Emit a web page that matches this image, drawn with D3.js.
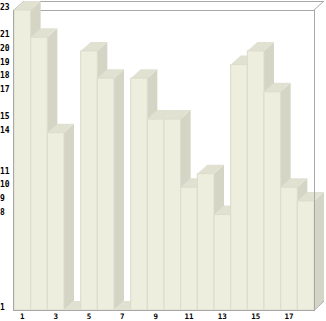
<!DOCTYPE html>
<html>
<head>
<meta charset="utf-8">
<script src="https://cdn.jsdelivr.net/npm/d3@7/dist/d3.min.js"></script>
<style>
html,body{margin:0;padding:0;background:#fff;}
svg{display:block;}
</style>
</head>
<body>
<svg id="chart" width="326" height="321"></svg>
<script>
const categories = ["1","2","3","4","5","6","7","8","9","10","11","12","13","14","15","16","17","18"];
const values = [23,21,14,1,20,18,1,18,15,15,10,11,8,19,20,17,10,9];
const yTicks = [23,21,20,19,18,17,15,14,11,10,9,8,1];
const xTicks = ["1","3","5","7","9","11","13","15","17"];

const svg = d3.select("#chart");
const L = 14, R = 314, T = 10, B = 310, DX = 10, DY = 9;
const x = d3.scaleBand().domain(categories).range([L, R]).padding(0);
const y = d3.scaleLinear().domain([1, 23]).range([B, T]);

const frameColor = "#a8a8a8";
const back = svg.append("g").attr("stroke", frameColor).attr("fill", "none").attr("shape-rendering","crispEdges");
back.append("line").attr("x1", L).attr("y1", T + 0.5).attr("x2", R).attr("y2", T + 0.5);
back.append("line").attr("x1", L + DX).attr("y1", T - DY + 0.5).attr("x2", R + DX).attr("y2", T - DY + 0.5);
svg.append("line").attr("x1", L).attr("y1", T).attr("x2", L + DX).attr("y2", T - DY).attr("stroke", frameColor);
svg.append("line").attr("x1", R).attr("y1", T).attr("x2", R + DX).attr("y2", T - DY).attr("stroke", frameColor);

const bars = svg.append("g");
categories.forEach((c, i) => {
  const v = values[i];
  const x0 = x(c), x1 = x(c) + x.bandwidth();
  const yt = y(v);
  const g = bars.append("g");
  g.append("polygon")
    .attr("points", [[x1, yt], [x1 + DX, yt - DY], [x1 + DX, B - DY], [x1, B]].map(p => p.join(",")).join(" "))
    .attr("fill", "#d5d5c5");
  g.append("polygon")
    .attr("points", [[x0, yt], [x0 + DX, yt - DY], [x1 + DX, yt - DY], [x1, yt]].map(p => p.join(",")).join(" "))
    .attr("fill", "#e1e1d2");
  g.append("rect")
    .attr("x", x0).attr("y", yt)
    .attr("width", x1 - x0).attr("height", B - yt)
    .attr("fill", "#eeeedf")
    .attr("stroke", "#dcdccb").attr("stroke-width", 1);
});

const front = svg.append("g").attr("stroke", frameColor).attr("fill", "none");
front.append("line").attr("x1", L - 0.5).attr("y1", T).attr("x2", L - 0.5).attr("y2", B + 1);
front.append("line").attr("x1", L).attr("y1", B + 0.5).attr("x2", R).attr("y2", B + 0.5);
front.append("line").attr("x1", R + 0.5).attr("y1", T).attr("x2", R + 0.5).attr("y2", B + 1);
front.append("line").attr("x1", R).attr("y1", B + 0.5).attr("x2", R + DX).attr("y2", B - DY);

const fontFam = "'DejaVu Sans Mono', monospace";
const yAxis = svg.append("g").call(d3.axisLeft(y).tickValues(yTicks).tickSize(0).tickFormat(d3.format("d")));
yAxis.select(".domain").remove();
yAxis.selectAll("text")
  .attr("x", 0).attr("dy", "0")
  .attr("y", -0.5)
  .attr("text-anchor", "start")
  .attr("font-family", fontFam).attr("font-size", "8px").attr("font-weight", "bold")
  .attr("fill", "#000");

const xAxis = svg.append("g").attr("transform", `translate(0,${B})`).call(d3.axisBottom(x).tickValues(xTicks).tickSize(0));
xAxis.select(".domain").remove();
xAxis.selectAll("text")
  .attr("y", 3.5).attr("dy", "0")
  .attr("dominant-baseline", "hanging")
  .attr("font-family", fontFam).attr("font-size", "7.5px").attr("font-weight", "bold")
  .attr("fill", "#000");
</script>
</body>
</html>
